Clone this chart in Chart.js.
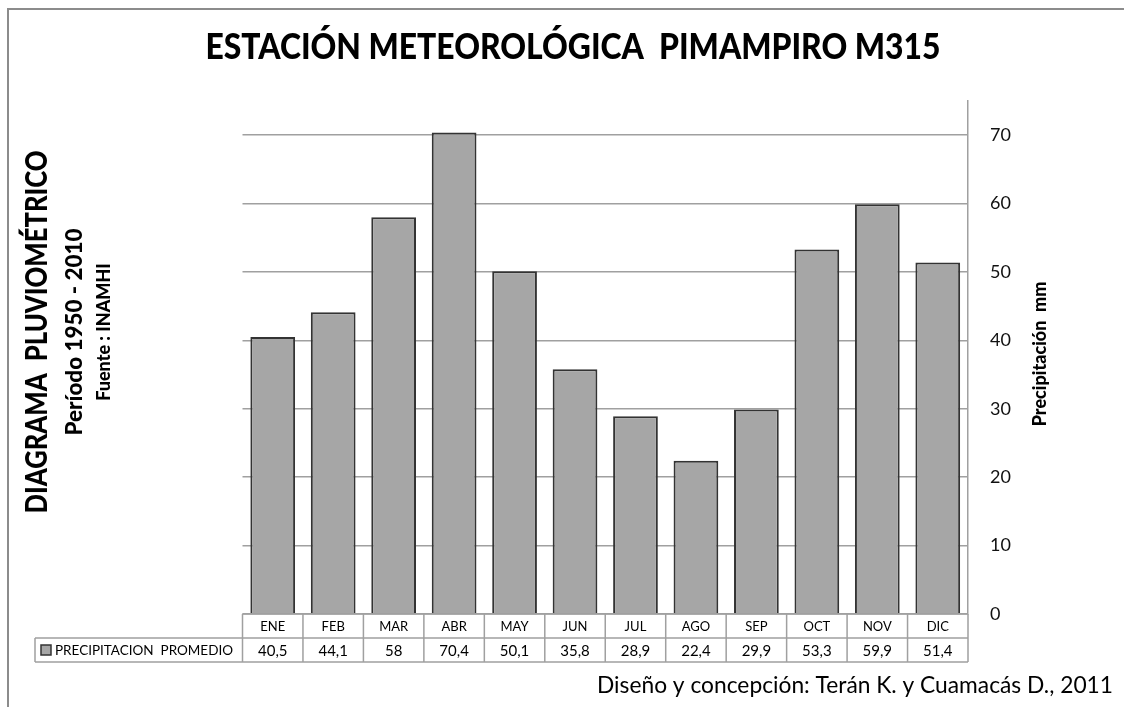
<!DOCTYPE html>
<html lang="es">
<head>
<meta charset="UTF-8">
<title>Estación Meteorológica Pimampiro M315</title>
<style>
  html, body { margin: 0; padding: 0; background: #fff; }
  #chart { display: block; }
</style>
</head>
<body>
<canvas id="chart" width="1124" height="707"></canvas>

<script src="https://cdn.jsdelivr.net/npm/chart.js"></script>
<script>
// datos
const months = ['ENE', 'FEB', 'MAR', 'ABR', 'MAY', 'JUN', 'JUL', 'AGO', 'SEP', 'OCT', 'NOV', 'DIC'];
const precip = [40.5, 44.1, 58, 70.4, 50.1, 35.8, 28.9, 22.4, 29.9, 53.3, 59.9, 51.4];
const yTicks = [0, 10, 20, 30, 40, 50, 60, 70];
const seriesName = 'PRECIPITACION  PROMEDIO';
const chartTitle = 'ESTACIÓN METEOROLÓGICA  PIMAMPIRO M315';
const sideTitles = ['DIAGRAMA  PLUVIOMÉTRICO', 'Período 1950 - 2010', 'Fuente : INAMHI'];
const axisTitle = 'Precipitación  mm';
const credit = 'Diseño y concepción: Terán K. y Cuamacás D., 2011';

const FONT = 'Lato, "Open Sans", sans-serif';
const LINE = '#a0a0a0';
const BAR = '#a6a6a6';
const BAR_EDGE = '#333333';

Chart.defaults.font.family = FONT;
Chart.defaults.color = '#111';

function fmt(v) {
    return String(v).replace('.', ',');
}

function rotText(ctx, text, x, y, font, maxW) {
    ctx.save();
    ctx.translate(x, y);
    ctx.rotate(-Math.PI / 2);
    ctx.font = font;
    ctx.textAlign = 'center';
    ctx.textBaseline = 'alphabetic';
    ctx.fillText(text, 0, 0, maxW);
    ctx.restore();
}

// marco, titulos y textos laterales
const decor = {
    id: 'decor',
    beforeDraw(chart) {
        const ctx = chart.ctx;
        ctx.save();
        ctx.fillStyle = '#fff';
        ctx.fillRect(0, 0, chart.width, chart.height);
        ctx.strokeStyle = '#8c8c8c';
        ctx.lineWidth = 2;
        ctx.beginPath();
        ctx.moveTo(8, chart.height);
        ctx.lineTo(8, 9);
        ctx.lineTo(chart.width, 9);
        ctx.stroke();
        ctx.restore();
    },
    afterDraw(chart) {
        const ctx = chart.ctx;
        ctx.save();
        ctx.fillStyle = '#000';
        ctx.font = '900 36px ' + FONT;
        ctx.textAlign = 'center';
        ctx.textBaseline = 'alphabetic';
        ctx.fillText(chartTitle, 573, 59, 735);

        const midY = 332;
        rotText(ctx, sideTitles[0], 47, midY, '900 30px ' + FONT, 363);
        rotText(ctx, sideTitles[1], 82, midY, '900 23px ' + FONT, 207);
        rotText(ctx, sideTitles[2], 110, midY, '900 18px ' + FONT, 139);

        rotText(ctx, axisTitle, 1046, 354, '900 18px ' + FONT, 150);

        ctx.font = '23px ' + FONT;
        ctx.textAlign = 'right';
        ctx.fillText(credit, 1113, 693, 516);
        ctx.restore();
    }
};

// tabla de datos bajo el grafico
const dataTable = {
    id: 'dataTable',
    afterDatasetsDraw(chart) {
        const ctx = chart.ctx;
        const a = chart.chartArea;
        const x = chart.scales.x;
        const colW = (a.right - a.left) / months.length;
        const rowH = 24;
        const top = a.bottom, mid = top + rowH, bot = mid + rowH;
        const legLeft = 35;

        ctx.save();
        ctx.strokeStyle = LINE;
        ctx.lineWidth = 1.5;
        ctx.beginPath();
        ctx.moveTo(a.left, top); ctx.lineTo(a.right, top);
        ctx.moveTo(legLeft, mid); ctx.lineTo(a.right, mid);
        ctx.moveTo(legLeft, bot); ctx.lineTo(a.right, bot);
        ctx.moveTo(legLeft, mid); ctx.lineTo(legLeft, bot);
        months.forEach((m, i) => {
            const cx = x.getPixelForValue(i);
            ctx.moveTo(cx - colW / 2, top); ctx.lineTo(cx - colW / 2, bot);
            if (i === months.length - 1) {
                ctx.moveTo(cx + colW / 2, top); ctx.lineTo(cx + colW / 2, bot);
            }
        });
        ctx.stroke();

        ctx.fillStyle = '#000';
        ctx.textAlign = 'center';
        ctx.textBaseline = 'middle';
        months.forEach((m, i) => {
            const cx = x.getPixelForValue(i);
            ctx.font = '13px ' + FONT;
            ctx.fillText(m, cx, top + rowH / 2 + 1);
            ctx.font = '15px ' + FONT;
            ctx.fillText(fmt(precip[i]), cx, mid + rowH / 2 + 1);
        });

        // leyenda
        ctx.fillStyle = BAR;
        ctx.fillRect(41, mid + 7, 10, 10);
        ctx.strokeStyle = BAR_EDGE;
        ctx.lineWidth = 1.5;
        ctx.strokeRect(41, mid + 7, 10, 10);
        ctx.fillStyle = '#000';
        ctx.textAlign = 'left';
        ctx.font = '13.5px ' + FONT;
        ctx.fillText(seriesName, 55, mid + rowH / 2 + 1, 178);
        ctx.restore();
    }
};

new Chart(document.getElementById('chart'), {
    type: 'bar',
    data: {
        labels: months,
        datasets: [{
            label: seriesName,
            data: precip,
            backgroundColor: BAR,
            borderColor: BAR_EDGE,
            borderWidth: 2,
            barPercentage: 0.74,
            categoryPercentage: 1
        }]
    },
    options: {
        responsive: false,
        animation: false,
        devicePixelRatio: 1,
        layout: { padding: { top: 101, left: 242.5, right: 0, bottom: 93 } },
        plugins: {
            legend: { display: false },
            title: { display: false },
            tooltip: { enabled: false }
        },
        scales: {
            x: { display: false },
            y: {
                position: 'right',
                min: 0,
                max: 75,
                afterBuildTicks: scale => {
                    scale.ticks = yTicks.map(v => ({ value: v }));
                },
                afterFit: scale => { scale.width = 156; },
                grid: { color: LINE, lineWidth: 1.5, drawTicks: false },
                border: { color: LINE, width: 1.5 },
                ticks: { padding: 22, font: { size: 18 }, color: '#111' }
            }
        }
    },
    plugins: [decor, dataTable]
});
</script>
</body>
</html>
